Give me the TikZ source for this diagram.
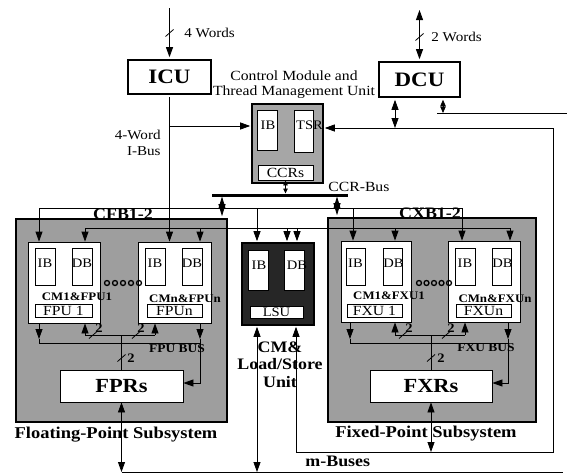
\documentclass[tikz,border=0pt]{standalone}
\usepackage{fontspec}
\setmainfont{Liberation Serif}[FakeStretch=1.12]
\usetikzlibrary{arrows.meta}
\newcommand\fs[1]{\fontsize{#1}{#1}\selectfont}
\newcommand\bslash[1]{\draw[line width=0.8pt] ([shift={(-4,3.5)}]#1) -- ([shift={(4,-3.5)}]#1);}
\begin{document}
\begin{tikzpicture}[x=1pt,y=-1pt,line width=0.8pt,
 tip/.style={-{Triangle[length=10pt,width=7pt]}},
 dtip/.style={{Triangle[length=10pt,width=7pt]}-{Triangle[length=10pt,width=7pt]}},
 diam/.style={{Triangle[length=12pt,width=7pt]}-{Triangle[length=12pt,width=7pt]}},
 mdtip/.style={{Triangle[length=6.5pt,width=5.5pt]}-{Triangle[length=6.5pt,width=5.5pt]}},
 sdtip/.style={{Triangle[length=5pt,width=4.5pt]}-{Triangle[length=5pt,width=4.5pt]}},
 unitbox/.style={draw,line width=2.8pt,fill=white,inner sep=0pt,font=\bfseries\fs{20.5}},
 subsys/.style={draw,line width=2.8pt,fill=black!38,inner sep=0pt},
 ccubox/.style={draw,line width=1.8pt,fill=black!35,inner sep=0pt},
 lsubox/.style={draw,line width=1.8pt,fill=black!85,inner sep=0pt},
 wbox/.style={draw,line width=0.8pt,fill=white,inner sep=0pt},
 txt/.style={inner sep=0pt,font=\fs{13}},
 btxt/.style={inner sep=0pt,font=\bfseries\fs{#1}}]
\fill[white] (0,0) rectangle (567,474);
\useasboundingbox (0,0) rectangle (567,474);

% subsystem frames
\node[subsys,minimum width=211,minimum height=203] (fps) at (121.5,320.5) {};
\node[subsys,minimum width=208,minimum height=204] (fxs) at (432,320) {};

% ICU / DCU
\node[unitbox,minimum width=83,minimum height=34] (icu) at (169.5,77) {ICU};
\node[unitbox,minimum width=81,minimum height=35] (dcu) at (419.5,79.5) {DCU};

% control module
\node[ccubox,minimum width=71,minimum height=79] (ccu) at (287.5,143.5) {};
\node[wbox,minimum width=20,minimum height=40] (cib) at (267,130) {};
\node[wbox,minimum width=19,minimum height=42] (tsr) at (303.5,131) {};
\node[wbox,minimum width=55,minimum height=15] (ccrs) at (285.5,172.5) {};

% FP subsystem
\node[wbox,minimum width=72,minimum height=81] (fp1) at (64,282.5) {};
\node[wbox,minimum width=20,minimum height=37] (fp1ib) at (45,266.5) {};
\node[wbox,minimum width=20,minimum height=37] (fp1db) at (82,266.5) {};
\node[wbox,minimum width=57,minimum height=13] (fpu1) at (63.5,310.5) {};
\node[wbox,minimum width=73,minimum height=81] (fpn) at (174.5,282.5) {};
\node[wbox,minimum width=20,minimum height=37] (fpnib) at (155,266.5) {};
\node[wbox,minimum width=20,minimum height=37] (fpndb) at (192,266.5) {};
\node[wbox,minimum width=55,minimum height=13] (fpun) at (174.5,310.5) {};
\node[wbox,minimum width=123,minimum height=32] (fpr) at (121.5,386) {};

% FX subsystem
\node[wbox,minimum width=70,minimum height=81] (fx1) at (376,281.5) {};
\node[wbox,minimum width=19,minimum height=37] (fx1ib) at (355.5,266.5) {};
\node[wbox,minimum width=19,minimum height=37] (fx1db) at (392.5,266.5) {};
\node[wbox,minimum width=55,minimum height=13] (fxu1) at (374.5,310.5) {};
\node[wbox,minimum width=72,minimum height=81] (fxn) at (484,281.5) {};
\node[wbox,minimum width=20,minimum height=37] (fxnib) at (465,266.5) {};
\node[wbox,minimum width=19,minimum height=37] (fxndb) at (501.5,266.5) {};
\node[wbox,minimum width=55,minimum height=13] (fxun) at (483.5,310.5) {};
\node[wbox,minimum width=122,minimum height=32] (fxr) at (431,386) {};

% LSU
\node[lsubox,minimum width=72,minimum height=82] (lsu) at (278,284) {};
\node[wbox,minimum width=20,minimum height=40] (lsuib) at (258,270) {};
\node[wbox,minimum width=20,minimum height=40] (lsudb) at (294,270) {};
\node[wbox,minimum width=53,minimum height=12] (lsul) at (276.5,312) {};

% ---- connectors ----
\coordinate (icuin) at (169.5,8);
\draw[tip,shorten >=1.4pt] (icuin) -- (icu.north);
\bslash{169.5,33}
\coordinate (dcuin) at (419.5,10);
\draw[dtip,shorten >=1.4pt] (dcuin) -- (dcu.north);
\bslash{419.5,37}

% I-bus
\coordinate (ibr) at (169.5,126);
\draw[shorten <=1.4pt] (icu.south) -- (ibr);
\draw[tip,shorten >=0.9pt] (ibr) -- (ccu.west |- ibr);
\draw[tip] (ibr) -- (ibr |- fpn.north);
\coordinate (ib0) at (39,208);
\coordinate (ib1) at (462,208);
\coordinate (iblsu) at (257,208);
\coordinate (ibfx) at (353,208);
\draw (ib0) -- (ib1);
\draw[tip] (ib0) -- (ib0 |- fp1.north);
\draw[tip,shorten >=0.9pt] (iblsu) -- (iblsu |- lsu.north);
\draw[tip] (ibfx) -- (ibfx |- fx1.north);
\draw[tip] (ib1) -- (ib1 |- fxn.north);

% second bus
\coordinate (db0) at (85,228);
\coordinate (dbfpn) at (200,228);
\coordinate (dbl1) at (287,228);
\coordinate (dbl2) at (297,228);
\coordinate (dbfx) at (395,228);
\coordinate (db1) at (510,228);
\draw (db0) -- (db1);
\draw[tip] (db0) -- (db0 |- fp1.north);
\draw[tip] (dbfpn) -- (dbfpn |- fpn.north);
\draw[tip,shorten >=0.9pt] (dbl1) -- (dbl1 |- lsu.north);
\draw[tip,shorten >=0.9pt] (dbl2) -- (dbl2 |- lsu.north);
\draw[tip] (dbfx) -- (dbfx |- fx1.north);
\draw[tip] (db1) -- (db1 |- fxn.north);

% CCR bus
\coordinate (ccrL) at (212,195);
\coordinate (ccrR) at (348,195);
\draw[line width=3pt] (ccrL) -- (ccrR);
\coordinate (ccf) at (222,196.5);
\coordinate (ccx) at (337,196.5);
\draw[diam,shorten >=1.4pt] (ccf) -- (ccf |- fps.north);
\draw[diam,shorten >=1.4pt] (ccx) -- (ccx |- fxs.north);
\draw[sdtip,shorten >=1.5pt] (ccrs.south) -- (ccrs.south |- ccrL);

% DCU outputs and data loop
\coordinate (d1) at (395,128);
\coordinate (d2) at (443,113);
\draw[dtip,shorten <=1.4pt] (dcu.south -| d1) -- (d1);
\draw[mdtip,shorten <=1.4pt] (dcu.south -| d2) -- (d2);
\coordinate (d2l) at (437,113);
\coordinate (d2r) at (567,113);
\draw (d2l) -- (d2r);
\coordinate (lpA) at (553,128);
\coordinate (lpB) at (553,452);
\coordinate (lpC) at (296,452);
\draw[tip,shorten >=0.9pt] (lpA) -- (ccu.east |- lpA);
\draw[tip,shorten >=0.9pt] (lpA) -- (lpB) -- (lpC) -- (lpC |- lsu.south);
\draw[dtip] (fxr.south) -- (fxr.south |- lpB);

% m-bus
\coordinate (mL) at (121.5,472);
\coordinate (mR) at (563,472);
\coordinate (mls) at (257,472);
\draw (mL) -- (mR);
\draw[dtip] (fpr.south) -- (mL);
\draw[dtip,shorten <=0.9pt] (mls |- lsu.south) -- (mls);

% FP internal buses
\coordinate (fa0) at (39,339);
\coordinate (fb0) at (39,343);
\coordinate (fa1) at (200,339);
\coordinate (fb1) at (200,343);
\coordinate (fc1) at (200,383);
\draw (fb0) -- (fb1);
\draw[tip] (fp1.south -| fa0) -- (fa0);
\draw (fa0) -- (fb0);
\draw[tip] (fpn.south -| fa1) -- (fa1);
\draw[tip] (fa1) -- (fc1) -- (fpr.east |- fc1);
\coordinate (rb) at (121.5,335);
\coordinate (rbl) at (85,335);
\coordinate (rbr) at (155,335);
\draw (fpr.north) -- (rb);
\draw (rbl) -- (rbr);
\draw[tip] (rbl) -- (rbl |- fp1.south);
\draw[tip] (rbr) -- (rbr |- fpn.south);
\bslash{93,335}
\bslash{136,335}
\bslash{121.5,358}

% FX internal buses
\coordinate (xa0) at (350,339);
\coordinate (xb0) at (350,343);
\coordinate (xa1) at (508,339);
\coordinate (xb1) at (508,343);
\coordinate (xc1) at (508,383);
\draw (xb0) -- (xb1);
\draw[tip] (fx1.south -| xa0) -- (xa0);
\draw (xa0) -- (xb0);
\draw[tip] (fxn.south -| xa1) -- (xa1);
\draw[tip] (xa1) -- (xc1) -- (fxr.east |- xc1);
\coordinate (xrb) at (431,335);
\coordinate (xrbl) at (395,335);
\coordinate (xrbr) at (465,335);
\draw (fxr.north) -- (xrb);
\draw (xrbl) -- (xrbr);
\draw[tip] (xrbl) -- (xrbl |- fx1.south);
\draw[tip] (xrbr) -- (xrbr |- fxn.south);
\bslash{403,335}
\bslash{446,335}
\bslash{431,358}

% dots
\foreach \i in {0,...,4} {\draw[line width=1.3pt] (107+8*\i,283) circle (2.5);}
\foreach \i in {0,...,4} {\draw[line width=1.3pt] (419+7.5*\i,283) circle (2.5);}

% ---- texts ----
\node[txt,anchor=west,font=\fs{13.5}] (w4) at (184,33) {4 Words};
\node[txt,anchor=west,font=\fs{13.5}] (w2) at (431,37) {2 Words};
\node[txt,align=center,font=\fontsize{14}{15.5}\selectfont] (title) at (294,84.5) {Control Module and\\Thread Management Unit};
\node[txt,align=right,anchor=east,font=\fontsize{13.5}{16}\selectfont] (iblab) at (161,143) {4-Word\\I-Bus};
\node[txt,anchor=west,font=\fs{14}] (ccrbus) at (328,187) {CCR-Bus};
\node[txt] (tcib) at (268,125) {IB};
\node[txt] (ttsr) at (309.5,125) {TSR};
\node[txt,font=\fs{14}] (tccrs) at (ccrs) {CCRs};

\node[btxt=16] (cfb) at (123,214) {CFB1-2};
\node[btxt=16] (cxb) at (430,213) {CXB1-2};

\node[txt] (t1) at (45,263) {IB};
\node[txt] (t2) at (82,263) {DB};
\node[txt] (t3) at (155,263) {IB};
\node[txt] (t4) at (192,263) {DB};
\node[btxt=11.5] (t5) at (77,297) {CM1\&FPU1};
\node[btxt=11.5] (t6) at (185,299) {CMn\&FPUn};
\node[txt,font=\fs{14}] (t7) at (fpu1) {FPU 1};
\node[txt,font=\fs{14}] (t8) at (fpun) {FPUn};
\node[btxt=20] (t9) at (fpr) {FPRs};
\node[btxt=12] (t10) at (177,349) {FPU BUS};
\node[btxt=13] (t11) at (99,328) {2};
\node[btxt=13] (t12) at (141,328) {2};
\node[btxt=13] (t13) at (131,358) {2};

\node[txt] (u1) at (355.5,263) {IB};
\node[txt] (u2) at (393.5,263) {DB};
\node[txt] (u3) at (465,263) {IB};
\node[txt] (u4) at (502.5,263) {DB};
\node[btxt=11.5] (u5) at (389,296) {CM1\&FXU1};
\node[btxt=11.5] (u6) at (495,299) {CMn\&FXUn};
\node[txt,font=\fs{14}] (u7) at (fxu1) {FXU 1};
\node[txt,font=\fs{14}] (u8) at (fxun) {FXUn};
\node[btxt=20] (u9) at (fxr) {FXRs};
\node[btxt=12] (u10) at (486,348) {FXU BUS};
\node[btxt=13] (u11) at (409,328) {2};
\node[btxt=13] (u12) at (451,328) {2};
\node[btxt=13] (u13) at (441,358) {2};

\node[txt] (l1) at (259,265) {IB};
\node[txt] (l2) at (297,265) {DB};
\node[txt] (l3) at (lsul) {LSU};
\node[inner sep=0pt,align=center,font=\bfseries\fontsize{16}{17.5}\selectfont] (cmls) at (280,364.5) {CM\&\\Load/Store\\Unit};

\node[btxt=16.5] (fpsub) at (116,435) {Floating-Point Subsystem};
\node[btxt=16.5] (fxsub) at (426,434) {Fixed-Point Subsystem};
\node[btxt=16,anchor=west] (mbus) at (305,461) {m-Buses};
\end{tikzpicture}
\end{document}
